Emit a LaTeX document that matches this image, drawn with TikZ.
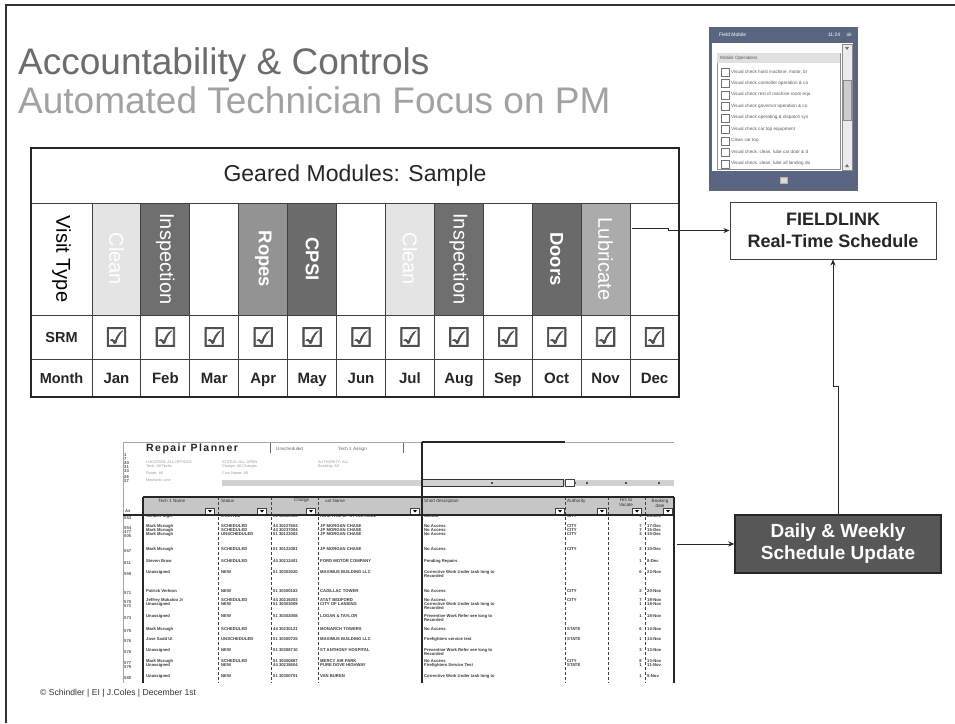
\documentclass[tikz,border=0pt]{standalone}
\usepackage{fontspec}
\setmainfont{Liberation Sans}
\newfontfamily\dejavu{DejaVu Sans}[FakeBold=2.5]
\newfontfamily\rpfont{Liberation Sans}[LetterSpace=14]
\usetikzlibrary{arrows.meta}
\definecolor{tA}{HTML}{6C6C6C}
\definecolor{tB}{HTML}{A2A2A2}
\definecolor{cleanc}{HTML}{E4E4E4}
\definecolor{inspc}{HTML}{6F6F6F}
\definecolor{ropesc}{HTML}{939393}
\definecolor{cpsic}{HTML}{6C6C6C}
\definecolor{doorsc}{HTML}{6A6A6A}
\definecolor{lubec}{HTML}{ABABAB}
\definecolor{dwc}{HTML}{575757}
\definecolor{slate}{HTML}{5A6581}
\definecolor{chk}{HTML}{505050}
\definecolor{hdrband}{HTML}{C6C6C6}
\begin{document}
\begin{tikzpicture}[x=1pt,y=-1pt,
  conn/.style={draw=black!85,line width=0.9pt,-{Stealth[length=6pt,width=5pt]}},
  tline/.style={draw=black!75,line width=0.9pt},
  ttl/.style={anchor=base west,inner sep=0pt,font=\fontsize{37}{40}\selectfont},
  lbl/.style={anchor=base,inner sep=0pt,text=black!85,font=\bfseries\fontsize{15}{15}\selectfont},
  vlab/.style={rotate=-90,inner sep=0pt,text=white},
  ckb/.style={inner sep=0pt,text=chk,font=\dejavu\fontsize{26}{26}\selectfont},
  sst/.style={anchor=base west,inner sep=0pt,text=black!78,font=\bfseries\fontsize{4.2}{4.5}\selectfont},
  ssh/.style={anchor=base west,inner sep=0pt,text=black!80,font=\fontsize{4.6}{5}\selectfont},
  ssf/.style={anchor=base west,inner sep=0pt,text=black!40,font=\fontsize{3.8}{4}\selectfont},
  mobt/.style={anchor=west,inner sep=0pt,text=black!65,font=\fontsize{4.6}{5}\selectfont},
  ddbtn/.style={draw=black!75,fill=white,line width=0.4pt}
]
\useasboundingbox (0,0) rectangle (955,723);
\fill[white] (0,0) rectangle (955,723);

% slide frame
\draw[black!80,line width=1.3pt] (6,723) -- (6,5) -- (955,5);

% titles
\node[ttl,text=tA] (t1) at (18,74) {Accountability \& Controls};
\node[ttl,text=tB] (t2) at (18,113) {Automated Technician Focus on PM};

% ===== table =====
\node[inner sep=0pt,text=black!85,font=\fontsize{23}{23}\selectfont] (hdr) at (355,176) {Geared Modules: Sample};
\foreach \m/\lab/\fc/\bw [count=\i] in {Jan/Clean/cleanc/0,Feb/Inspection/inspc/0,Mar//white/0,Apr/Ropes/ropesc/1,May/CPSI/cpsic/1,Jun//white/0,Jul/Clean/cleanc/0,Aug/Inspection/inspc/0,Sep//white/0,Oct/Doors/doorsc/1,Nov/Lubricate/lubec/0,Dec//white/0}{
  \pgfmathsetmacro\xl{92+(\i-1)*48.9167}
  \pgfmathsetmacro\xc{\xl+24.4583}
  \fill[\fc] (\xl,203) rectangle ++(48.9167,112);
  \ifnum\bw=1
    \node[vlab,font=\bfseries\fontsize{18.5}{19}\selectfont] (v\i) at (\xc,259) {\lab};
  \else
    \node[vlab,font=\fontsize{20}{20}\selectfont] (v\i) at (\xc,259) {\lab};
  \fi
  \node[ckb] (s\i) at (\xc,337) {☑};
  \node[lbl] (mo\i) at (\xc,383.4) {\m};
  \draw[tline] (\xl,203) -- (\xl,397);
}
\node[rotate=-90,inner sep=0pt,text=black,font=\fontsize{20}{20}\selectfont] (vt) at (61.5,259) {Visit Type};
\node[lbl,font=\bfseries\fontsize{14.5}{15}\selectfont] (srm) at (61.5,342.2) {SRM};
\node[lbl,font=\bfseries\fontsize{14.5}{15}\selectfont] (mon) at (61.5,383.2) {Month};
\draw[tline] (31,203) -- (679,203);
\draw[tline] (31,315) -- (679,315);
\draw[tline] (31,359) -- (679,359);
\draw[black!85,line width=1.4pt] (31,148) rectangle (679,397);
\coordinate (tabout) at (632,228);

% ===== mobile screenshot =====
\node[fill=slate,draw=black!60,line width=0.5pt,minimum width=148pt,minimum height=163pt,inner sep=0pt] (mob) at (783,108.5) {};
\fill[white] (712,43) rectangle (853,171);
\node[anchor=west,inner sep=0pt,text=white,font=\fontsize{5}{5}\selectfont] (mobtitle) at (719,35) {Field Mobile};
\node[anchor=east,inner sep=0pt,text=white,font=\fontsize{5}{5}\selectfont] (mobclock) at (852,35) {11:24 \quad ok};
\draw[black!45,line width=0.4pt,fill=black!8] (842,44) rectangle (852,170);
\fill[black!55] (845,47) -- (849,47) -- (847,50) -- cycle;
\fill[black!55] (845,167) -- (849,167) -- (847,164) -- cycle;
\draw[black!45,line width=0.4pt,fill=black!20] (843,80) rectangle (851,120);
\draw[black!45,line width=0.4pt] (717,53) rectangle (840,169);
\fill[black!12] (717.3,53.3) rectangle (839.7,63);
\node[mobt] (mobhdr) at (720,58) {Mobile Operations};
\begin{scope}
\clip (717,63) rectangle (840,169);
\foreach \i/\yy in {1/71.7,2/83.2,3/94.7,4/106.2,5/117.7,6/129.2,7/140.7,8/152.2,9/163.7}{
  \draw[black!55,line width=0.4pt,fill=white] (721,\yy-4) rectangle (729,\yy+4);
}
\node[mobt] (mi1) at (731,71.7) {Visual check hoist machine, motor, br};
\node[mobt] (mi2) at (731,83.2) {Visual check controller operation \& co};
\node[mobt] (mi3) at (731,94.7) {Visual check rest of machine room equ};
\node[mobt] (mi4) at (731,106.2) {Visual check governor operation \& co};
\node[mobt] (mi5) at (731,117.7) {Visual check operating \& dispatch sys};
\node[mobt] (mi6) at (731,129.2) {Visual check car top equipment};
\node[mobt] (mi7) at (731,140.7) {Clean car top};
\node[mobt] (mi8) at (731,152.2) {Visual check, clean, lube car door \& d};
\node[mobt] (mi9) at (731,163.7) {Visual check, clean, lube all landing do};
\end{scope}
\draw[black!30,line width=0.4pt,fill=black!15] (780,177) rectangle (787,183);

% ===== FIELDLINK & Daily boxes =====
\node[draw=black!75,line width=1pt,fill=white,minimum width=206pt,minimum height=57pt,align=center,text=black!85,font=\bfseries\fontsize{18}{22}\selectfont] (fl) at (833,230.5) {FIELDLINK\\Real-Time Schedule};
\node[draw=black!85,line width=1.5pt,fill=dwc,minimum width=206pt,minimum height=58pt,align=center,text=white,font=\bfseries\fontsize{19}{22}\selectfont] (dw) at (838,544) {Daily \& Weekly\\Schedule Update};

% ===== spreadsheet =====
\node[minimum width=554pt,minimum height=241pt,inner sep=0pt] (ss) at (397,562.5) {};
\draw[black!35,line width=0.4pt] (123,442) -- (123,683);
\draw[black!35,line width=0.4pt] (123,442) -- (674,442);
\draw[black!85,line width=1.2pt] (422,442) -- (565,442);
\node[anchor=base west,inner sep=0pt,text=black!85,font=\rpfont\bfseries\fontsize{10.5}{11}\selectfont] (rp) at (146,451) {Repair Planner};
\draw[black!60,line width=0.5pt] (270,443) -- (270,453);
\draw[black!60,line width=0.5pt] (403,443) -- (403,453);
\node[ssh,text=black!60] (tab1) at (276,450) {Unscheduled};
\node[ssh,text=black!60] (tab2) at (338,450) {Tech 1 Assign};
% row numbers (top)
\foreach \yy/\n in {456/1,460.5/7,464.3/30,468.3/31,472.3/33,478/26,482/27}{
  \node[sst,text=black!70] at (124,\yy) {\n};
}
\node[sst,text=black!70] (asl) at (125,512) {As};
% filter lines
\node[ssf] (f1) at (146,463) {LOCATION: ALL OFFICES};
\node[ssf] (f2) at (146,467.5) {Tech: All Techs};
\node[ssf] (f3) at (146,474.5) {Route: All};
\node[ssf] (f4) at (146,481.5) {Mechanic Line};
\node[ssf] (f5) at (222,463) {STATUS: ALL OPEN};
\node[ssf] (f6) at (222,467.5) {Charge: All Charges};
\node[ssf] (f7) at (222,474.5) {Cust Name: All};
\node[ssf] (f8) at (318,463) {AUTHORITY: ALL};
\node[ssf] (f9) at (318,467.5) {Booking: All};
\fill[black!18] (222,479.5) rectangle (674,485.5);
\draw[black!80,line width=0.7pt] (422,479) rectangle (563,486);
\draw[ddbtn] (565,479) rectangle (574,486);
\foreach \xx in {492,575,587,626,659}{\fill[black!70] (\xx-0.8,481.5) rectangle (\xx+0.8,483.5);}
% header band
\fill[hdrband] (143,497) rectangle (674,515);
\node[ssh] (h1) at (158,502.5) {Tech 1 Name};
\node[ssh] (h2) at (221,502.5) {Status};
\node[ssh] (h3) at (294,501.5) {Charge};
\node[ssh] (h4) at (325,502.5) {ust Name};
\node[ssh] (h5) at (424,502.5) {Short description};
\node[ssh] (h6) at (567,502.5) {Authority};
\node[ssh,align=center,anchor=north] (h7) at (626,498.5) {Hrs to\\Vacate};
\node[ssh,align=center,anchor=north] (h8) at (660,498.5) {Booking\\date};
\foreach \xx in {210,262,311,415,560,602,637,668}{
  \draw[ddbtn] (\xx-4.5,508) rectangle (\xx+4.5,514);
  \fill[black] (\xx-2,510) -- (\xx+2,510) -- (\xx,512.5) -- cycle;
}
\foreach \xx in {218,271,318,565,608,645}{
  \draw[black!75,line width=0.5pt,densely dashed] (\xx,497) -- (\xx,683);
}
\draw[black!85,line width=1.2pt] (143,497) -- (674,497);
\draw[black!85,line width=1.2pt] (123,515) -- (674,515);
\draw[black!85,line width=1.2pt] (143,497) -- (143,683);
\draw[black!85,line width=1.2pt] (422,442) -- (422,683);
\draw[black!85,line width=1.2pt] (674,497) -- (674,683);
% data rows
\foreach \yy/\n/\a/\b/\c/\d/\e/\ee/\f/\g/\h in {
517.7/553/Schuler Ingel/STARTED/51 30300530/HOSPITAL OF ST RAPHAEL/Callout//CITY/1/28-Dec,
527.7/554/Mark Mcnugh/SCHEDULED/44 30227604/JP MORGAN CHASE/No Access//CITY/7/17-Dec,
531.2/477/Mark Mcnugh/SCHEDULED/44 30237004/JP MORGAN CHASE/No Access//CITY/7/15-Dec,
535.3/505/Mark Mcnugh/UNSCHEDULED/51 30122083/JP MORGAN CHASE/No Access//CITY/3/10-Dec,
550.7/557/Mark Mcnugh/SCHEDULED/51 30122081/JP MORGAN CHASE/No Access//CITY/2/10-Dec,
562.3/611/Steven Brow/SCHEDULED/44 30212401/FORD MOTOR COMPANY/Pending Repairs///1/8-Dec,
573.3/559/Unassigned/NEW/51 30303020/MAXIMUS BUILDING LLC/Corrective Work Under task long to/Recorded//6/23-Nov,
592.7/571/Patrick Verhom/NEW/51 30300183/CADILLAC TOWER/No Access//CITY/2/20-Nov,
601.7/570/Jeffrey Mukaloo Jr/SCHEDULED/44 30216003/AT\&T BEDFORD/No Access//CITY/7/19-Nov,
605.7/572/Unassigned/NEW/51 30303009/CITY OF LANSING/Corrective Work Under task long to/Recorded//1/18-Nov,
617.7/573/Unassigned/NEW/51 30302008/LOGAN \& TAYLOR/Preventive Work Refer see long to/Recorded//1/18-Nov,
630/575/Mark Mcnugh/SCHEDULED/44 30230121/MONARCH TOWERS/No Access//STATE/6/14-Nov,
640.7/576/Jose Sadd Ul/UNSCHEDULED/51 30300725/MAXIMUS BUILDING LLC/Firefighters service test//STATE/1/14-Nov,
651.7/578/Unassigned/NEW/51 30308710/ST ANTHONY HOSPITAL/Preventive Work Refer see long to/Recorded//3/13-Nov,
662.3/577/Mark Mcnugh/SCHEDULED/51 30300887/MERCY AIR PARK/No Access//CITY/8/13-Nov,
666.7/579/Unassigned/NEW/44 30218604/PURE DOVE HIGHWAY/Firefighters Service Test//STATE/1/11-Nov,
677.3/580/Unassigned/NEW/51 30300701/VAN BUREN/Corrective Work Under task long to///1/5-Nov}{
  \node[sst,text=black!65] at (124,\yy+2) {\n};
  \node[sst] at (146,\yy) {\a};
  \node[sst] at (221,\yy) {\b};
  \node[sst] at (273,\yy) {\c};
  \node[sst] at (320,\yy) {\d};
  \node[sst] at (424,\yy) {\e};
  \node[sst] at (424,\yy+4) {\ee};
  \node[sst] at (567,\yy) {\f};
  \node[sst,anchor=base east] at (642,\yy) {\g};
  \node[sst] at (647,\yy) {\h};
}

% footer
\node[anchor=base west,inner sep=0pt,text=black!80,font=\fontsize{8.6}{9}\selectfont] (foot) at (40,695) {© Schindler | EI | J.Coles | December 1st};

% ===== connectors =====
\draw[conn] (tabout) -- ++(36,0) |- (fl.west);
\draw[conn] (dw.north) -- ++(0,-128) -| (fl.south);
\draw[conn] ([xshift=3pt]ss.east |- dw.west) -- (dw.west);
\end{tikzpicture}
\end{document}
